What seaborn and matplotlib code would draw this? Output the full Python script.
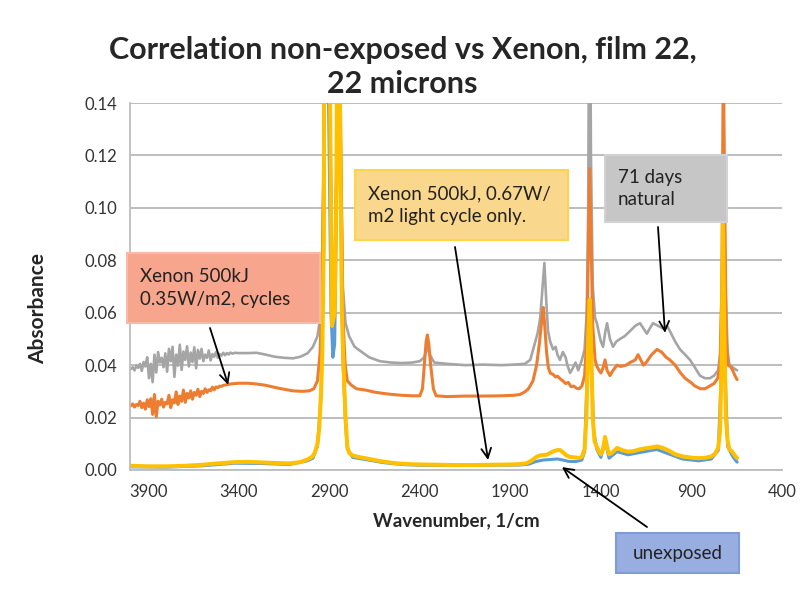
import pandas as pd
import seaborn as sns
import matplotlib.pyplot as plt
from matplotlib.patches import FancyBboxPatch

# ---- data (wavenumber in 1/cm, absorbance) ----
natural_wn = [3995, 3985, 3975, 3965, 3955, 3945, 3935, 3925, 3915, 3905, 3895, 3885, 3875, 3865,
              3855, 3845, 3835, 3825, 3815, 3805, 3795, 3785, 3775, 3765, 3755, 3745, 3735, 3725,
              3715, 3705, 3695, 3685, 3675, 3665, 3655, 3645, 3635, 3625, 3615, 3605, 3595, 3585,
              3575, 3565, 3555, 3545, 3535, 3525, 3515, 3505, 3495, 3485, 3475, 3465, 3455, 3445,
              3435, 3420, 3400, 3350, 3300, 3250, 3200, 3150, 3100, 3060, 3020, 2990, 2965, 2950,
              2940, 2930, 2920, 2905, 2885, 2870, 2860, 2850, 2840, 2825, 2810, 2790, 2760, 2720,
              2680, 2620, 2560, 2500, 2440, 2400, 2375, 2360, 2345, 2320, 2250, 2150, 2050, 1950,
              1880, 1820, 1790, 1770, 1750, 1735, 1722, 1712, 1702, 1692, 1680, 1664, 1650, 1640,
              1626, 1610, 1595, 1585, 1570, 1554, 1540, 1525, 1505, 1490, 1478, 1470, 1462, 1455,
              1445, 1432, 1422, 1410, 1400, 1388, 1375, 1366, 1350, 1333, 1315, 1294, 1270, 1239,
              1210, 1184, 1165, 1146, 1130, 1112, 1085, 1057, 1035, 1019, 990, 963, 935, 908,
              880, 853, 825, 798, 775, 753, 740, 730, 722, 712, 700, 690, 670, 648]
natural_abs = [0.0385, 0.0392, 0.0380, 0.0398, 0.0390, 0.0405, 0.0378, 0.0412, 0.0395, 0.0430,
               0.0350, 0.0405, 0.0335, 0.0440, 0.0372, 0.0450, 0.0410, 0.0428, 0.0392, 0.0445,
               0.0375, 0.0462, 0.0415, 0.0470, 0.0355, 0.0440, 0.0398, 0.0478, 0.0382, 0.0452,
               0.0420, 0.0472, 0.0395, 0.0448, 0.0412, 0.0468, 0.0388, 0.0458, 0.0425, 0.0462,
               0.0415, 0.0440, 0.0428, 0.0456, 0.0418, 0.0442, 0.0432, 0.0450, 0.0428, 0.0442,
               0.0436, 0.0447, 0.0438, 0.0446, 0.0441, 0.0448, 0.0444, 0.0447, 0.0446, 0.0446,
               0.0447, 0.0440, 0.0432, 0.0428, 0.0426, 0.0432, 0.0445, 0.0470, 0.0510, 0.0580,
               0.0750, 0.1200, 0.3000, 0.2000, 0.0700, 0.0750, 0.1200, 0.2500, 0.1400, 0.0700,
               0.0560, 0.0510, 0.0470, 0.0450, 0.0430, 0.0415, 0.0410, 0.0408, 0.0410, 0.0415,
               0.0430, 0.0470, 0.0440, 0.0410, 0.0405, 0.0400, 0.0402, 0.0400, 0.0402, 0.0405,
               0.0420, 0.0470, 0.0520, 0.0580, 0.0700, 0.0790, 0.0650, 0.0530, 0.0490, 0.0460,
               0.0470, 0.0440, 0.0420, 0.0450, 0.0430, 0.0400, 0.0370, 0.0390, 0.0410, 0.0380,
               0.0420, 0.0460, 0.0600, 0.1000, 0.2200, 0.1200, 0.0700, 0.0580, 0.0560, 0.0520,
               0.0490, 0.0470, 0.0530, 0.0560, 0.0500, 0.0470, 0.0490, 0.0500, 0.0510, 0.0530,
               0.0550, 0.0560, 0.0540, 0.0520, 0.0540, 0.0560, 0.0550, 0.0540, 0.0550, 0.0530,
               0.0490, 0.0460, 0.0440, 0.0420, 0.0390, 0.0360, 0.0350, 0.0350, 0.0360, 0.0380,
               0.0450, 0.0800, 0.1300, 0.0700, 0.0450, 0.0400, 0.0390, 0.0380]

cycles_wn = [3995, 3985, 3975, 3965, 3955, 3945, 3935, 3925, 3915, 3905, 3895, 3885, 3875, 3865,
             3855, 3845, 3835, 3825, 3815, 3805, 3795, 3785, 3775, 3765, 3755, 3745, 3735, 3725,
             3715, 3705, 3695, 3685, 3675, 3665, 3655, 3645, 3635, 3625, 3615, 3605, 3595, 3585,
             3575, 3565, 3555, 3545, 3535, 3525, 3515, 3505, 3495, 3485, 3475, 3465, 3455, 3445,
             3435, 3420, 3400, 3350, 3300, 3250, 3200, 3150, 3100, 3050, 3010, 2985, 2965, 2950,
             2940, 2930, 2920, 2905, 2885, 2870, 2860, 2850, 2840, 2825, 2812, 2800, 2780, 2750,
             2700, 2650, 2600, 2550, 2500, 2440, 2400, 2385, 2375, 2365, 2358, 2350, 2340, 2325,
             2310, 2250, 2150, 2067, 1950, 1880, 1847, 1820, 1800, 1775, 1755, 1740, 1725, 1718,
             1710, 1700, 1690, 1680, 1665, 1650, 1640, 1625, 1610, 1595, 1580, 1565, 1550, 1535,
             1520, 1505, 1490, 1478, 1470, 1462, 1455, 1445, 1432, 1422, 1410, 1400, 1388, 1377,
             1366, 1350, 1333, 1311, 1290, 1260, 1239, 1210, 1195, 1180, 1165, 1150, 1120, 1090,
             1065, 1040, 1019, 990, 960, 935, 905, 880, 850, 825, 800, 775, 755, 742, 732, 724,
             716, 708, 698, 685, 672, 660, 648]
cycles_abs = [0.0245, 0.0252, 0.0240, 0.0250, 0.0246, 0.0262, 0.0238, 0.0255, 0.0232, 0.0268,
              0.0242, 0.0272, 0.0212, 0.0288, 0.0203, 0.0262, 0.0248, 0.0270, 0.0240, 0.0258,
              0.0252, 0.0285, 0.0238, 0.0268, 0.0256, 0.0298, 0.0250, 0.0282, 0.0262, 0.0305,
              0.0258, 0.0292, 0.0275, 0.0302, 0.0270, 0.0296, 0.0285, 0.0308, 0.0280, 0.0300,
              0.0292, 0.0310, 0.0296, 0.0306, 0.0302, 0.0316, 0.0306, 0.0317, 0.0314, 0.0320,
              0.0319, 0.0323, 0.0324, 0.0325, 0.0327, 0.0328, 0.0329, 0.0330, 0.0331, 0.0331,
              0.0328, 0.0323, 0.0315, 0.0308, 0.0302, 0.0300, 0.0302, 0.0310, 0.0340, 0.0450,
              0.0700, 0.1200, 0.3200, 0.2000, 0.0680, 0.0700, 0.1100, 0.2700, 0.1500, 0.0600,
              0.0400, 0.0340, 0.0325, 0.0310, 0.0305, 0.0297, 0.0292, 0.0288, 0.0285, 0.0283,
              0.0283, 0.0310, 0.0400, 0.0490, 0.0515, 0.0480, 0.0400, 0.0310, 0.0283, 0.0280,
              0.0282, 0.0282, 0.0283, 0.0285, 0.0288, 0.0298, 0.0310, 0.0340, 0.0400, 0.0480,
              0.0580, 0.0620, 0.0550, 0.0450, 0.0390, 0.0370, 0.0365, 0.0355, 0.0358, 0.0348,
              0.0340, 0.0330, 0.0334, 0.0318, 0.0320, 0.0312, 0.0310, 0.0320, 0.0360, 0.0500,
              0.0800, 0.1150, 0.0900, 0.0550, 0.0420, 0.0395, 0.0380, 0.0370, 0.0390, 0.0420,
              0.0380, 0.0360, 0.0380, 0.0400, 0.0395, 0.0400, 0.0410, 0.0420, 0.0440, 0.0420,
              0.0400, 0.0410, 0.0440, 0.0460, 0.0450, 0.0430, 0.0420, 0.0400, 0.0370, 0.0350,
              0.0335, 0.0320, 0.0310, 0.0310, 0.0320, 0.0330, 0.0350, 0.0400, 0.0700, 0.1600,
              0.1000, 0.0500, 0.0400, 0.0395, 0.0380, 0.0360, 0.0345]

light_wn = [3995, 3900, 3800, 3700, 3600, 3500, 3420, 3350, 3280, 3200, 3120, 3060, 3020, 2995,
            2980, 2965, 2955, 2945, 2938, 2930, 2920, 2905, 2885, 2870, 2860, 2850, 2840, 2830,
            2823, 2810, 2800, 2790, 2770, 2740, 2700, 2650, 2600, 2550, 2500, 2450, 2400, 2300,
            2200, 2100, 2000, 1900, 1850, 1810, 1785, 1760, 1740, 1720, 1700, 1680, 1660, 1640,
            1625, 1610, 1590, 1570, 1545, 1520, 1505, 1490, 1480, 1470, 1462, 1455, 1445, 1435,
            1422, 1410, 1400, 1388, 1377, 1366, 1355, 1340, 1311, 1280, 1250, 1220, 1190, 1160,
            1120, 1090, 1060, 1020, 990, 950, 900, 860, 820, 790, 770, 752, 742, 734, 726, 718,
            710, 700, 690, 675, 660, 648]
light_abs = [0.0016, 0.0014, 0.0014, 0.0016, 0.0020, 0.0026, 0.0030, 0.0031, 0.0029, 0.0027,
             0.0025, 0.0030, 0.0040, 0.0050, 0.0065, 0.0100, 0.0160, 0.0300, 0.0450, 0.0900,
             0.3600, 0.2200, 0.0550, 0.0600, 0.1100, 0.2800, 0.1300, 0.0600, 0.0430, 0.0200,
             0.0090, 0.0065, 0.0055, 0.0050, 0.0045, 0.0038, 0.0032, 0.0027, 0.0024, 0.0022,
             0.0021, 0.0020, 0.0019, 0.0019, 0.0020, 0.0021, 0.0022, 0.0026, 0.0035, 0.0048,
             0.0055, 0.0057, 0.0058, 0.0065, 0.0072, 0.0076, 0.0076, 0.0068, 0.0055, 0.0050,
             0.0048, 0.0046, 0.0050, 0.0080, 0.0200, 0.0500, 0.0650, 0.0500, 0.0200, 0.0110,
             0.0088, 0.0070, 0.0060, 0.0080, 0.0126, 0.0090, 0.0060, 0.0065, 0.0084, 0.0075,
             0.0070, 0.0072, 0.0078, 0.0082, 0.0086, 0.0090, 0.0085, 0.0072, 0.0060, 0.0052,
             0.0047, 0.0045, 0.0047, 0.0052, 0.0062, 0.0085, 0.0150, 0.0400, 0.0950, 0.0500,
             0.0200, 0.0110, 0.0078, 0.0070, 0.0055, 0.0045]

unexposed_wn = [3995, 3800, 3600, 3420, 3280, 3120, 3020, 2990, 2965, 2945, 2930, 2920, 2905,
                2890, 2880, 2870, 2860, 2850, 2840, 2823, 2810, 2800, 2770, 2700, 2600, 2500,
                2400, 2200, 2000, 1850, 1800, 1760, 1720, 1680, 1640, 1610, 1580, 1540, 1505,
                1490, 1470, 1462, 1455, 1440, 1422, 1400, 1377, 1355, 1311, 1250, 1190, 1120,
                1090, 1020, 950, 860, 790, 752, 734, 726, 718, 700, 675, 660, 648]
unexposed_abs = [0.0012, 0.0011, 0.0016, 0.0026, 0.0025, 0.0021, 0.0035, 0.0045, 0.0090, 0.0280,
                 0.0850, 0.3400, 0.1500, 0.0600, 0.0430, 0.0480, 0.1000, 0.2600, 0.1200, 0.0400,
                 0.0180, 0.0080, 0.0048, 0.0040, 0.0028, 0.0021, 0.0018, 0.0017, 0.0018, 0.0019,
                 0.0022, 0.0032, 0.0038, 0.0040, 0.0042, 0.0038, 0.0033, 0.0032, 0.0038, 0.0070,
                 0.0480, 0.0630, 0.0480, 0.0150, 0.0078, 0.0048, 0.0110, 0.0045, 0.0070, 0.0058,
                 0.0066, 0.0075, 0.0078, 0.0060, 0.0042, 0.0035, 0.0042, 0.0075, 0.0380, 0.0900,
                 0.0450, 0.0090, 0.0055, 0.0040, 0.0030]

x_ticks = [3900, 3400, 2900, 2400, 1900, 1400, 900, 400]
y_ticks = [0.00, 0.02, 0.04, 0.06, 0.08, 0.10, 0.12, 0.14]

W, H = 805, 614


def fx(px):
    return px / W


def fy(py):
    return 1 - py / H


sns.set_style("white")
plt.rcParams['font.family'] = ['Lato', 'DejaVu Sans']

fig = plt.figure(figsize=(8.05, 6.14), dpi=100)
ax = fig.add_axes([fx(130), fy(470), fx(782) - fx(130), fy(103) - fy(470)])

# order matters: yellow sits on top of blue, orange on top of grey
series = [
    (natural_wn, natural_abs, '#A5A5A5', 1.9),
    (cycles_wn, cycles_abs, '#ED7D31', 2.2),
    (unexposed_wn, unexposed_abs, '#5B9BD5', 2.2),
    (light_wn, light_abs, '#FFC000', 2.9),
]
for wn, ab, col, lw in series:
    d = pd.DataFrame({'wn': wn, 'abs': ab})
    sns.lineplot(data=d, x='wn', y='abs', ax=ax, color=col, lw=lw,
                 estimator=None, sort=False, legend=False)

ax.set_xlim(4000, 400)
ax.set_ylim(0, 0.14)
ax.set_xticks(x_ticks)
ax.set_yticks(y_ticks)
ax.set_yticklabels([f"{v:.2f}" for v in y_ticks])
ax.grid(axis='y', color='#BDBDBD', lw=1.4)
ax.set_axisbelow(True)
for s in ['top', 'right']:
    ax.spines[s].set_visible(False)
for s in ['left', 'bottom']:
    ax.spines[s].set_color('#BDBDBD')
    ax.spines[s].set_linewidth(1.3)
ax.tick_params(axis='x', length=4, color='#BDBDBD', labelsize=12, pad=6, labelcolor='#333333')
ax.tick_params(axis='y', length=0, labelsize=12, pad=9, labelcolor='#333333')
ax.set_xlabel('Wavenumber, 1/cm', fontsize=13.5, fontweight='bold', labelpad=9)
ax.set_ylabel('Absorbance', fontsize=15, fontweight='bold')
ax.yaxis.set_label_coords(-0.125, 0.44)

fig.text(0.5, fy(93), 'Correlation non-exposed vs Xenon, film 22,\n22 microns',
         ha='center', va='baseline', fontsize=22, fontweight='bold', linespacing=1.25)


def callout(x0, y0, x1, y1, text, face, edge, tx=None, ha='left'):
    box = FancyBboxPatch((fx(x0), fy(y1)), fx(x1) - fx(x0), fy(y0) - fy(y1),
                         boxstyle='square,pad=0', transform=fig.transFigure,
                         facecolor=face, edgecolor=edge, lw=1.5, zorder=5)
    fig.patches.append(box)
    if tx is None:
        tx = x0 + 13
    fig.text(fx(tx), fy((y0 + y1) / 2), text, ha=ha, va='center', fontsize=13.5,
             color='#222222', linespacing=1.4, zorder=6)


def arrow(tip_wn, tip_abs, sx, sy):
    ax.annotate('', xy=(tip_wn, tip_abs), xycoords='data',
                xytext=(fx(sx), fy(sy)), textcoords='figure fraction',
                arrowprops=dict(arrowstyle='->,head_length=0.7,head_width=0.35',
                                color='black', lw=1.3, shrinkA=0, shrinkB=0),
                annotation_clip=False, zorder=7)


callout(127, 253, 320, 323, 'Xenon 500kJ\n0.35W/m2, cycles', '#F7A68D', '#F5BBA8')
callout(355, 170, 568, 240, 'Xenon 500kJ, 0.67W/\nm2 light cycle only.', '#F9D88E', '#FFD447')
callout(605, 155, 727, 222, '71 days\nnatural', '#C6C6C6', '#D2D2D2')
callout(616, 533, 739, 573, 'unexposed', '#98ADE0', '#7F9BD8', tx=677.5, ha='center')

arrow(3458, 0.0325, 210, 328)
arrow(2023, 0.0038, 455, 247)
arrow(1046, 0.0523, 658, 227)
arrow(1615, 0.0011, 647, 527)

fig.savefig('out.png', dpi=100)
